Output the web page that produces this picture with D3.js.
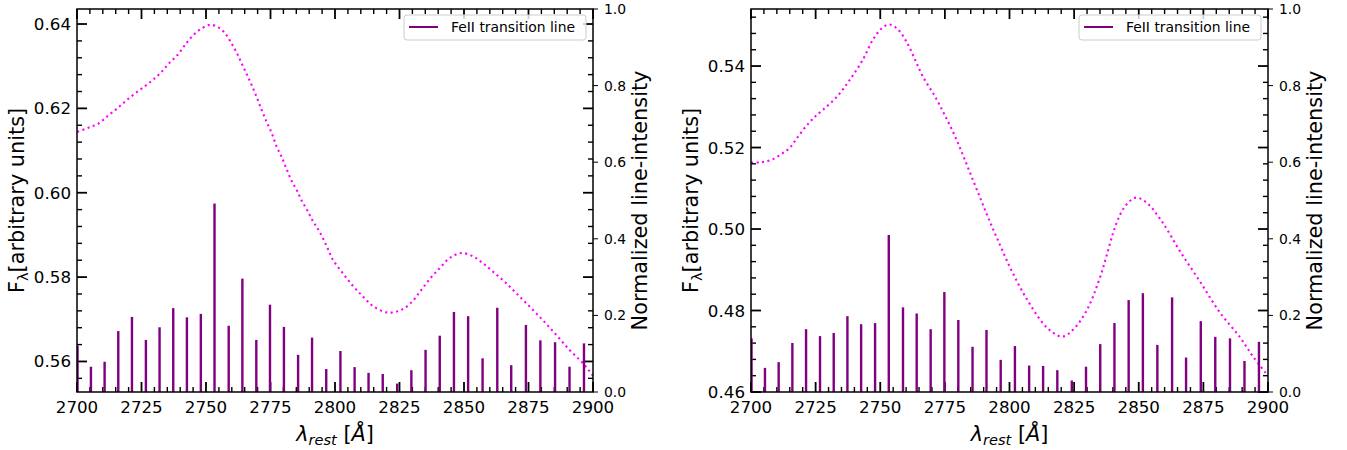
<!DOCTYPE html>
<html>
<head>
<meta charset="utf-8">
<script src="https://cdn.jsdelivr.net/npm/d3@7"></script>
<style>
  body { margin: 0; background: #fff; }
  svg { display: block; font-family: "DejaVu Sans", sans-serif; }
</style>
</head>
<body>
<svg width="1347" height="450"></svg>
<script>

// FeII transition wavelengths (same set in both panels)
var lineWave = [2700.2, 2705.4, 2710.7, 2716.0, 2721.3, 2726.7, 2732.0, 2737.3, 2742.6, 2748.0,
  2753.3, 2758.8, 2764.1, 2769.5, 2774.8, 2780.2, 2785.7, 2791.1, 2796.6, 2802.1,
  2807.6, 2813.0, 2818.5, 2824.1, 2829.6, 2835.1, 2840.6, 2846.1, 2851.6, 2857.2,
  2862.9, 2868.3, 2874.0, 2879.6, 2885.3, 2890.9, 2896.5];

// normalized line intensities
var lineIntLeft = [0.121, 0.066, 0.079, 0.159, 0.196, 0.136, 0.169, 0.219, 0.195, 0.204,
  0.492, 0.173, 0.296, 0.136, 0.228, 0.170, 0.097, 0.142, 0.060, 0.107,
  0.065, 0.050, 0.047, 0.022, 0.057, 0.110, 0.147, 0.209, 0.198, 0.088,
  0.220, 0.070, 0.175, 0.135, 0.130, 0.066, 0.127];
var lineIntRight = [0.140, 0.063, 0.078, 0.128, 0.164, 0.146, 0.154, 0.198, 0.177, 0.180,
  0.410, 0.221, 0.205, 0.164, 0.261, 0.188, 0.118, 0.162, 0.084, 0.120,
  0.069, 0.068, 0.057, 0.030, 0.066, 0.125, 0.180, 0.240, 0.258, 0.123,
  0.247, 0.090, 0.185, 0.144, 0.140, 0.081, 0.131];

// flux curves
var contWaveLeft = [2700.1, 2704.4, 2708.3, 2711.9, 2715.4, 2718.6, 2722.2, 2726.0, 2729.3, 2732.4,
  2735.7, 2738.9, 2741.6, 2744.2, 2747.7, 2751.6, 2754.8, 2757.4, 2759.7, 2761.9,
  2763.8, 2765.8, 2767.7, 2769.7, 2771.6, 2773.5, 2775.5, 2777.4, 2779.3, 2781.3,
  2783.2, 2785.2, 2787.1, 2789.3, 2791.6, 2793.9, 2796.8, 2799.3, 2803.2, 2807.1,
  2811.0, 2814.8, 2820.3, 2825.2, 2829.1, 2832.9, 2836.8, 2840.7, 2844.6, 2849.1,
  2853.6, 2857.5, 2861.4, 2865.9, 2870.4, 2875.6, 2880.7, 2885.9, 2891.1, 2896.2, 2900.0];
var contFluxLeft = [0.6144, 0.6154, 0.6164, 0.6182, 0.6199, 0.6216, 0.6234, 0.6251, 0.6267, 0.6284,
  0.6307, 0.6326, 0.6348, 0.6368, 0.6387, 0.6398, 0.6392, 0.6378, 0.6356, 0.6332,
  0.6307, 0.6281, 0.6255, 0.6226, 0.6196, 0.6168, 0.6141, 0.6109, 0.6085, 0.6055,
  0.6028, 0.6006, 0.5981, 0.5958, 0.5931, 0.5909, 0.5873, 0.5840, 0.5808, 0.5778,
  0.5753, 0.5731, 0.5716, 0.5721, 0.5737, 0.5765, 0.5796, 0.5822, 0.5846, 0.5857,
  0.5849, 0.5832, 0.5812, 0.5788, 0.5761, 0.5729, 0.5697, 0.5662, 0.5626, 0.5595, 0.5566];

var contWaveRight = [2700.0, 2704.0, 2708.0, 2712.0, 2715.1, 2718.0, 2721.3, 2724.5, 2727.9, 2733.3,
  2738.3, 2743.3, 2747.2, 2750.5, 2753.4, 2756.5, 2760.3, 2763.5, 2766.5, 2771.2,
  2775.0, 2778.9, 2782.4, 2785.8, 2789.0, 2791.6, 2795.0, 2800.2, 2806.8, 2814.5,
  2820.3, 2824.6, 2830.0, 2835.0, 2841.6, 2845.0, 2848.9, 2853.0, 2859.0, 2866.0,
  2873.7, 2881.4, 2889.2, 2894.2, 2899.6];
var contFluxRight = [0.5163, 0.5164, 0.5170, 0.5185, 0.5200, 0.5225, 0.5252, 0.5274, 0.5293, 0.5325,
  0.5367, 0.5416, 0.5465, 0.5492, 0.5502, 0.5492, 0.5458, 0.5415, 0.5374, 0.5325,
  0.5279, 0.5228, 0.5175, 0.5121, 0.5071, 0.5030, 0.4980, 0.4906, 0.4827, 0.4758,
  0.4736, 0.4753, 0.4802, 0.4881, 0.5018, 0.5058, 0.5077, 0.5065, 0.5018, 0.4945,
  0.4871, 0.4795, 0.4734, 0.4687, 0.4643];

// ticks
var waveTicks = [2700, 2725, 2750, 2775, 2800, 2825, 2850, 2875, 2900];
var fluxTicksLeft = [0.56, 0.58, 0.60, 0.62, 0.64];
var fluxTicksRight = [0.46, 0.48, 0.50, 0.52, 0.54];
var intensityTicks = [0.0, 0.2, 0.4, 0.6, 0.8, 1.0];

//###############################################
// layout
//###############################################
var plotTop = 9, plotBottom = 392;
var panels = [
  { x0: 77, x1: 593, fluxDomain: [0.55276, 0.64356], fluxTicks: fluxTicksLeft,
    wave: contWaveLeft, flux: contFluxLeft, intensity: lineIntLeft },
  { x0: 751, x1: 1268, fluxDomain: [0.46, 0.554], fluxTicks: fluxTicksRight,
    wave: contWaveRight, flux: contFluxRight, intensity: lineIntRight }
];

var svg = d3.select("svg");
svg.append("rect").attr("width", 1347).attr("height", 450).attr("fill", "#fff");

function tickLine(g, x1, y1, x2, y2, w) {
  g.append("line")
    .attr("x1", x1).attr("y1", y1).attr("x2", x2).attr("y2", y2)
    .attr("stroke", "#000").attr("stroke-width", w);
}

function drawPanel(p, i) {
  var x = d3.scaleLinear().domain([2700, 2900]).range([p.x0, p.x1]);
  var y = d3.scaleLinear().domain(p.fluxDomain).range([plotBottom, plotTop]);
  var y2 = d3.scaleLinear().domain([0, 1]).range([plotBottom, plotTop]);

  var g = svg.append("g");

  g.append("clipPath").attr("id", "clip" + i)
    .append("rect")
    .attr("x", p.x0).attr("y", plotTop)
    .attr("width", p.x1 - p.x0).attr("height", plotBottom - plotTop);

  // flux curve (dotted magenta)
  var line = d3.line()
    .x(function(d) { return x(d[0]); })
    .y(function(d) { return y(d[1]); })
    .curve(d3.curveCatmullRom);

  g.append("path")
    .datum(p.wave.map(function(w, k) { return [w, p.flux[k]]; }))
    .attr("clip-path", "url(#clip" + i + ")")
    .attr("d", line)
    .attr("fill", "none")
    .attr("stroke", "#ff00ff")
    .attr("stroke-width", 2.1)
    .attr("stroke-dasharray", "2.1,3.4");

  // ax1 ticks: inward, on all four sides
  var ticks = g.append("g");
  var minorWave = d3.range(2700, 2901, 5).filter(function(w) { return w % 25 !== 0; });
  waveTicks.forEach(function(w) {
    tickLine(ticks, x(w), plotBottom, x(w), plotBottom - 10, 1.8);
    tickLine(ticks, x(w), plotTop, x(w), plotTop + 10, 1.8);
  });
  minorWave.forEach(function(w) {
    tickLine(ticks, x(w), plotBottom, x(w), plotBottom - 5, 1.4);
    tickLine(ticks, x(w), plotTop, x(w), plotTop + 5, 1.4);
  });
  var lo = Math.ceil(p.fluxDomain[0] * 250), hi = Math.floor(p.fluxDomain[1] * 250);
  d3.range(lo, hi + 1).filter(function(k) { return k % 5 !== 0; }).forEach(function(k) {
    var v = y(k / 250);
    tickLine(ticks, p.x0, v, p.x0 + 5, v, 1.4);
    tickLine(ticks, p.x1, v, p.x1 - 5, v, 1.4);
  });
  p.fluxTicks.forEach(function(f) {
    tickLine(ticks, p.x0, y(f), p.x0 + 10, y(f), 1.8);
    tickLine(ticks, p.x1, y(f), p.x1 - 10, y(f), 1.8);
  });

  // ax1 tick labels
  g.append("g").selectAll("text").data(waveTicks).enter().append("text")
    .attr("x", function(d) { return x(d); })
    .attr("y", 413)
    .attr("text-anchor", "middle")
    .attr("font-size", 16.7)
    .text(d3.format("d"));

  g.append("g").selectAll("text").data(p.fluxTicks).enter().append("text")
    .attr("x", p.x0 - 6)
    .attr("y", function(d) { return y(d); })
    .attr("dy", "0.36em")
    .attr("text-anchor", "end")
    .attr("font-size", 16.7)
    .text(d3.format(".2f"));

  // ax2: line intensities
  g.append("g").attr("clip-path", "url(#clip" + i + ")")
    .selectAll("rect").data(lineWave).enter().append("rect")
    .attr("x", function(d) { return x(d) - 1.2; })
    .attr("width", 2.4)
    .attr("y", function(d, k) { return y2(p.intensity[k]); })
    .attr("height", function(d, k) { return plotBottom - y2(p.intensity[k]); })
    .attr("fill", "#800080");

  // ax2 ticks: outward on the right
  intensityTicks.forEach(function(t) {
    tickLine(g, p.x1, y2(t), p.x1 + 5, y2(t), 1);
  });
  g.append("g").selectAll("text").data(intensityTicks).enter().append("text")
    .attr("x", p.x1 + 11)
    .attr("y", function(d) { return y2(d); })
    .attr("dy", "0.36em")
    .attr("font-size", 13.9)
    .text(d3.format(".1f"));

  // frame
  g.append("rect")
    .attr("x", p.x0).attr("y", plotTop)
    .attr("width", p.x1 - p.x0).attr("height", plotBottom - plotTop)
    .attr("fill", "none").attr("stroke", "#000").attr("stroke-width", 1.5);

  // axis labels
  var yl = g.append("text")
    .attr("transform", "translate(" + (p.x0 - 53) + "," + ((plotTop + plotBottom) / 2) + ") rotate(-90)")
    .attr("text-anchor", "middle")
    .attr("font-size", 20.8);
  yl.append("tspan").text("F");
  yl.append("tspan").attr("font-size", 14.6).attr("dy", 4).text("λ");
  yl.append("tspan").attr("dy", -4).text("[arbitrary units]");

  g.append("text")
    .attr("transform", "translate(" + (p.x1 + 53.5) + "," + ((plotTop + plotBottom) / 2) + ") rotate(-90)")
    .attr("text-anchor", "middle")
    .attr("font-size", 20.8)
    .text("Normalized line-intensity");

  var xl = g.append("text")
    .attr("x", (p.x0 + p.x1) / 2)
    .attr("y", 441)
    .attr("text-anchor", "middle")
    .attr("font-size", 20.8);
  xl.append("tspan").attr("font-style", "italic").text("λ");
  xl.append("tspan").attr("font-style", "italic").attr("font-size", 14.6).attr("dy", 4).text("rest");
  xl.append("tspan").attr("dy", -4).text(" [");
  xl.append("tspan").attr("font-style", "italic").text("Å");
  xl.append("tspan").text("]");

  // legend
  var lx = p.x1 - 189, ly = 15;
  var leg = g.append("g");
  leg.append("rect")
    .attr("x", lx).attr("y", ly).attr("width", 182).attr("height", 25)
    .attr("rx", 3)
    .attr("fill", "#fff").attr("fill-opacity", 0.8)
    .attr("stroke", "#ccc").attr("stroke-width", 1);
  leg.append("line")
    .attr("x1", lx + 5).attr("x2", lx + 34)
    .attr("y1", ly + 12).attr("y2", ly + 12)
    .attr("stroke", "#800080").attr("stroke-width", 2);
  leg.append("text")
    .attr("x", lx + 47).attr("y", ly + 17)
    .attr("font-size", 13.9)
    .text("FeII transition line");
}

panels.forEach(drawPanel);

</script>
</body>
</html>
